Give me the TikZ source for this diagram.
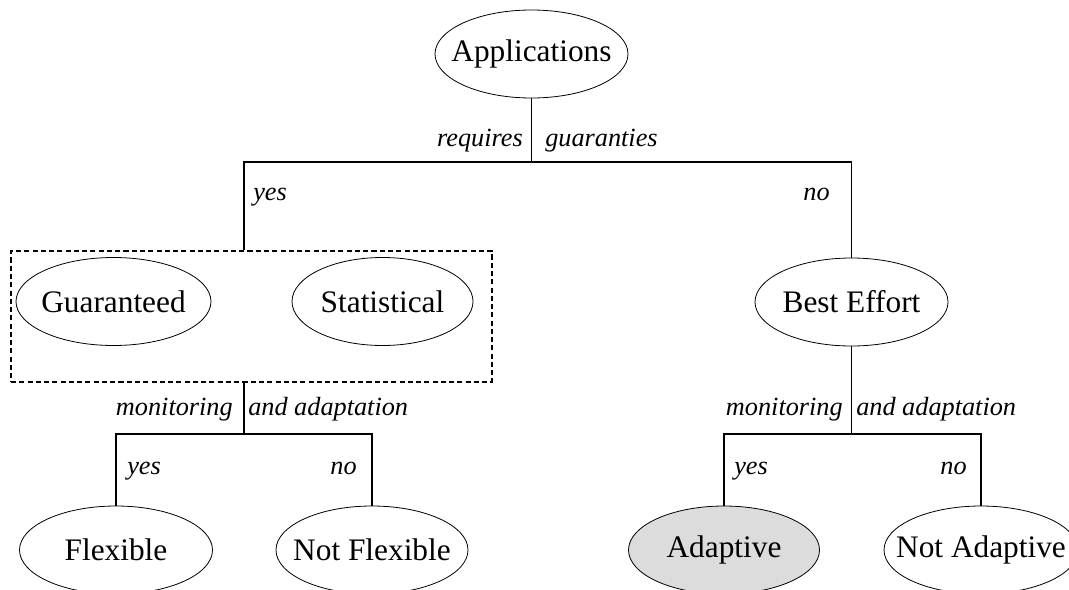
\documentclass[tikz,border=0pt]{standalone}
\usepackage{fontspec}
\setmainfont{Liberation Serif}
\usetikzlibrary{shapes.geometric}
\definecolor{chosen}{HTML}{DCDCDC}
\newcommand{\centred}[1]{\makebox[0pt]{#1}}
\begin{document}
\begin{tikzpicture}[x=0.75pt,y=-0.75pt,
  choice/.style={ellipse, draw, line width=0.6pt, inner sep=0pt,
    minimum height=66pt, font=\fontsize{23.5}{28}\selectfont},
  edge/.style={line width=0.8pt},
  lbl/.style={inner sep=0pt, font=\fontsize{19.7}{24}\selectfont\itshape},
  group/.style={draw, line width=1.4pt, dash pattern=on 3.8pt off 2.4pt,
    inner sep=0pt, minimum width=360.75pt, minimum height=98.25pt}]
\useasboundingbox (0,0) rectangle (1069,589);
\clip (0,0) rectangle (1069,589);

% decision nodes (outline size set by minimum width/height only)
\node[choice, minimum width=144.75pt] (app) at (531.5,54) {\centred{Applications}};
\node[group] (grp) at (251.5,316.5) {};
\node[choice, minimum width=146.25pt] (guar) at (113.5,301.5) {\centred{Guaranteed}};
\node[choice, minimum width=135.75pt] (stat) at (382.5,301.5) {\centred{Statistical}};
\node[choice, minimum width=144.75pt] (best) at (851.5,302) {\centred{Best Effort}};
\node[choice, minimum width=144.75pt] (flex) at (116,550) {\centred{Flexible}};
\node[choice, minimum width=144pt] (notflex) at (372,550) {\centred{Not Flexible}};
\node[choice, minimum width=143.25pt, fill=chosen] (adapt) at (724,550) {\centred{Adaptive}};
\node[choice, minimum width=145.5pt] (notadapt) at (981,550) {\centred{Not Adaptive}};

% branching points
\coordinate (t1) at (531.5,162);
\coordinate (t1l) at (244,162);
\coordinate (t1r) at (851.5,162);
\coordinate (t2) at (244,434);
\coordinate (t2l) at (116,434);
\coordinate (t2r) at (372,434);
\coordinate (t3) at (851.5,434);
\coordinate (t3l) at (724,434);
\coordinate (t3r) at (981,434);

% connectors
\draw[edge] (app.south) -- (t1);
\draw[edge] (grp.north -| t1l) -- (t1l) -- (t1r) -- (best.north);
\draw[edge] (grp.south -| t2) -- (t2);
\draw[edge] (flex.north) -- (t2l) -- (t2r) -- (notflex.north);
\draw[edge] (best.south) -- (t3);
\draw[edge] (adapt.north) -- (t3l) -- (t3r) -- (notadapt.north);

% branch labels
\node[lbl, anchor=base east] (q1) at (523,146) {requires};
\node[lbl, anchor=base west] (q2) at (545,146) {guaranties};
\node[lbl, anchor=base west] (y1) at (253,200) {yes};
\node[lbl, anchor=base east] (n1) at (830,200) {no};
\node[lbl, anchor=base east] (m1) at (233,415) {monitoring};
\node[lbl, anchor=base west] (a1) at (248,415) {and adaptation};
\node[lbl, anchor=base west] (y2) at (127,474) {yes};
\node[lbl, anchor=base east] (n2) at (357,474) {no};
\node[lbl, anchor=base east] (m2) at (843,415) {monitoring};
\node[lbl, anchor=base west] (a2) at (856,415) {and adaptation};
\node[lbl, anchor=base west] (y3) at (734,474) {yes};
\node[lbl, anchor=base east] (n3) at (967,474) {no};
\end{tikzpicture}
\end{document}
